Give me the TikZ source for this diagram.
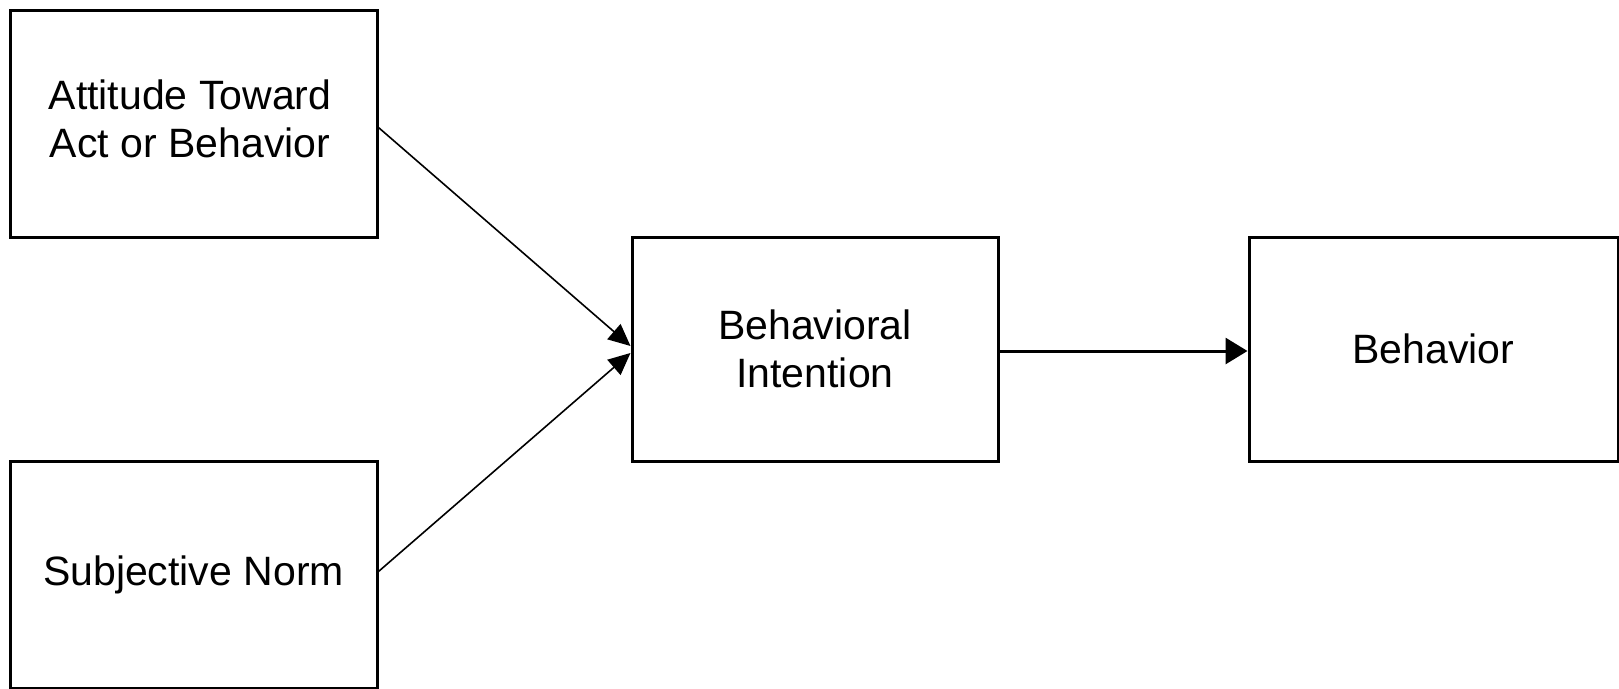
\documentclass[tikz,border=0pt]{standalone}
\usepackage{fontspec}
\setmainfont{Liberation Sans}
\usetikzlibrary{arrows.meta}
\begin{document}
\begin{tikzpicture}[x=1pt,y=-1pt,
  box/.style={draw=black,line width=3pt,rectangle,inner sep=0pt,align=center,
    font=\fontsize{41}{48}\selectfont},
  thinarrow/.style={line width=1.6pt,-{Triangle[length=22pt,width=20pt]}},
  thickarrow/.style={line width=3pt,-{Triangle[length=22pt,width=26pt]}}]
\useasboundingbox (0,0) rectangle (1619,688);
\fill[white] (0,0) rectangle (1619,688);
\node[box,minimum width=367pt,minimum height=227pt] (A) at (193.5,123.5) {};
\node[font=\fontsize{41}{48}\selectfont,align=center,inner sep=0pt] (Atext) at (190,119) {Attitude Toward\\Act or Behavior};
\node[box,minimum width=367pt,minimum height=227pt] (B) at (193.5,574.5) {Subjective Norm};
\node[box,minimum width=366pt,minimum height=224pt] (C) at (815,349) {Behavioral\\Intention};
\node[box,minimum width=369pt,minimum height=224pt] (D) at (1433.5,349) {Behavior};
\draw[thinarrow] ([yshift=-4pt]A.east) -- ([yshift=3pt]C.west);
\draw[thinarrow] ([yshift=3pt]B.east) -- ([yshift=-4pt]C.west);
\draw[thickarrow] ([yshift=-2pt]C.east) -- ([yshift=-2pt]D.west);
\end{tikzpicture}
\end{document}
